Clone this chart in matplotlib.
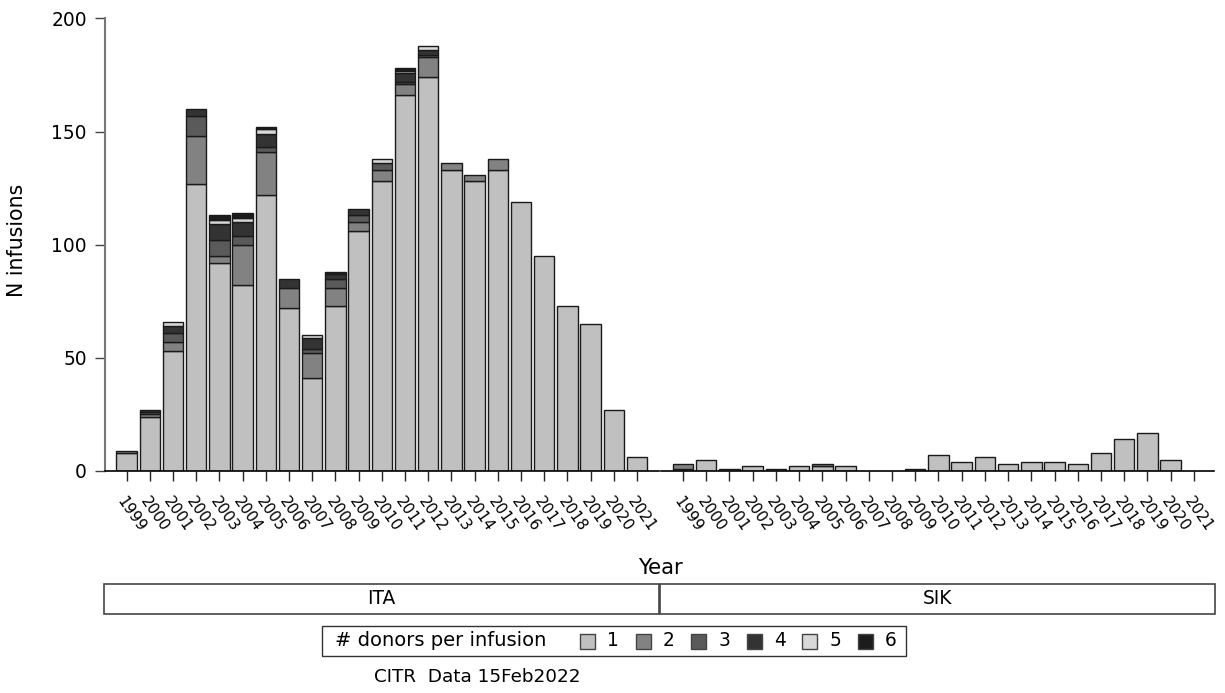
import matplotlib
matplotlib.use("Agg")
import matplotlib.pyplot as plt
from matplotlib.patches import Rectangle
import numpy as np

# infusions per year, split by number of donors per infusion
years = list(range(1999, 2022))

ita_1 = [8, 24, 53, 127, 92, 82, 122, 72, 41, 73, 106, 128, 166, 174, 133, 128, 133, 119, 95, 73, 65, 27, 6]
ita_2 = [1, 1, 4, 21, 3, 18, 19, 9, 11, 8, 4, 5, 5, 9, 3, 3, 5, 0, 0, 0, 0, 0, 0]
ita_3 = [0, 1, 4, 9, 7, 4, 2, 0, 2, 4, 3, 3, 1, 1, 0, 0, 0, 0, 0, 0, 0, 0, 0]
ita_4 = [0, 1, 3, 3, 7, 6, 6, 4, 5, 2, 3, 0, 4, 2, 0, 0, 0, 0, 0, 0, 0, 0, 0]
ita_5 = [0, 0, 2, 0, 2, 2, 2, 0, 1, 0, 0, 2, 1, 2, 0, 0, 0, 0, 0, 0, 0, 0, 0]
ita_6 = [0, 0, 0, 0, 2, 2, 1, 0, 0, 1, 0, 0, 1, 0, 0, 0, 0, 0, 0, 0, 0, 0, 0]

sik_1 = [1, 5, 1, 2, 1, 2, 2, 2, 0, 0, 1, 7, 4, 6, 3, 4, 4, 3, 8, 14, 17, 5, 0]
sik_2 = [2, 0, 0, 0, 0, 0, 1, 0, 0, 0, 0, 0, 0, 0, 0, 0, 0, 0, 0, 0, 0, 0, 0]
sik_3 = [0] * 23
sik_4 = [0] * 23
sik_5 = [0] * 23
sik_6 = [0] * 23

donor_labels = ["1", "2", "3", "4", "5", "6"]
donor_colors = ["#c0c0c0", "#828282", "#5a5a5a", "#333333", "#d8d8d8", "#1c1c1c"]

panels = [("ITA", [ita_1, ita_2, ita_3, ita_4, ita_5, ita_6]),
          ("SIK", [sik_1, sik_2, sik_3, sik_4, sik_5, sik_6])]

plt.rcParams["font.family"] = "DejaVu Sans"

W, H = 1225, 693
fig = plt.figure(figsize=(W / 100, H / 100), dpi=100)


def fx(px):
    return px / W


def fy(py):
    return 1 - py / H


top, base = 18.5, 471
panel_px = [(105, 659, (-0.93, 22.95)), (661, 1214, (-0.95, 22.87))]

x = np.arange(len(years))
for k, ((name, series), (x0, x1, xlim)) in enumerate(zip(panels, panel_px)):
    ax = fig.add_axes([fx(x0), fy(base), fx(x1 - x0), fy(top) - fy(base)])
    bottom = np.zeros(len(years))
    for vals, col in zip(series, donor_colors):
        vals = np.array(vals, dtype=float)
        m = vals > 0
        ax.bar(x[m], vals[m], width=0.88, bottom=bottom[m], color=col,
               edgecolor="#1a1a1a", linewidth=1.0)
        bottom += vals
    ax.set_xlim(*xlim)
    ax.set_ylim(0, 200)
    for s in ["top", "right"]:
        ax.spines[s].set_visible(False)
    ax.spines["bottom"].set_color("black")
    ax.spines["bottom"].set_linewidth(1.2)
    ax.set_xticks(x)
    ax.set_xticklabels([str(y) for y in years], rotation=-55, ha="left",
                       va="top", rotation_mode="anchor", fontsize=11)
    ax.tick_params(axis="x", length=7, width=1, color="#222222", pad=10)
    if k == 0:
        ax.spines["left"].set_color("#777777")
        ax.spines["left"].set_linewidth(1.5)
        ax.set_yticks([0, 50, 100, 150, 200])
        ax.tick_params(axis="y", length=7, width=1, color="#444444",
                       labelsize=13.4, pad=6)
    else:
        ax.spines["left"].set_visible(False)
        ax.set_yticks([])
    ax.set_facecolor("none")

    # strip label box under each panel
    bx0 = 104 if k == 0 else 660
    bx1 = 659 if k == 0 else 1215
    fig.patches.append(Rectangle((fx(bx0), fy(614)), fx(bx1 - bx0), fy(584) - fy(614),
                                 transform=fig.transFigure, facecolor="white",
                                 edgecolor="#444444", linewidth=1.2))
    fig.text(fx((bx0 + bx1) / 2), fy(599), name, ha="center", va="center", fontsize=13.4)

fig.text(fx(17), fy(240), "N infusions", rotation=90, ha="center", va="center", fontsize=14.8)
fig.text(fx(660), fy(568), "Year", ha="center", va="center", fontsize=15.3)

# legend
fig.patches.append(Rectangle((fx(322), fy(656)), fx(906 - 322), fy(626) - fy(656),
                             transform=fig.transFigure, facecolor="white",
                             edgecolor="#333333", linewidth=1.0))
fig.text(fx(335), fy(641), "# donors per infusion", ha="left", va="center", fontsize=14)
for i, (lab, col) in enumerate(zip(donor_labels, donor_colors)):
    px = 580 + i * 55.6
    fig.patches.append(Rectangle((fx(px), fy(648.5)), fx(15), fy(633.5) - fy(648.5),
                                 transform=fig.transFigure, facecolor=col,
                                 edgecolor="#444444", linewidth=1.0))
    fig.text(fx(px + 27), fy(641), lab, ha="left", va="center", fontsize=13.4)

fig.text(fx(477), fy(677), "CITR  Data 15Feb2022", ha="center", va="center", fontsize=13.2)

fig.savefig("out.png", dpi=100, facecolor="white")
